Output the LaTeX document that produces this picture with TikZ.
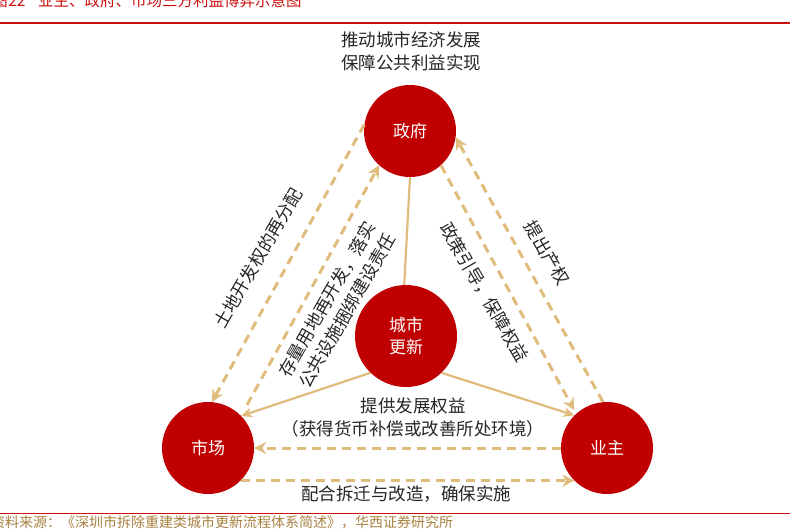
\documentclass[tikz,border=0pt]{standalone}
\usepackage{fontspec}
\setmainfont{Noto Sans CJK SC}
\usetikzlibrary{arrows.meta,calc}
\definecolor{cred}{HTML}{C00000}
\definecolor{gold}{HTML}{E0BC7C}
\definecolor{txt}{HTML}{262626}
\definecolor{tred}{HTML}{CC1010}
\definecolor{srcc}{HTML}{A88140}
\begin{document}
\begin{tikzpicture}[x=1pt,y=-1pt,
  circ/.style={circle, fill=cred, minimum size=92pt, inner sep=0pt, text=white,
    font=\fontsize{17}{22}\selectfont, align=center},
  gline/.style={draw=gold, line width=2.2pt},
  dline/.style={draw=gold, line width=3pt, dash pattern=on 9pt off 6pt},
  dtip/.style={-{Stealth[length=12pt,width=12pt]}},
  stip/.style={-{Stealth[length=11pt,width=10pt]}},
  lab/.style={text=txt, font=\fontsize{17.5}{23}\selectfont, inner sep=0pt, align=center}]
\useasboundingbox (0,0) rectangle (790,530);
\clip (0,0) rectangle (790,530);

% header and footer
\draw[tred, line width=2.4pt] (0,23) -- (790,23);
\draw[tred, line width=1.6pt] (0,513.5) -- (790,513.5);
\node[text=tred, font=\fontsize{15.5}{18}\selectfont, inner sep=0pt] (tfig) at (0,1) {图};
\node[text=tred, font=\fontsize{15.5}{18}\selectfont, inner sep=0pt] (tnum) at (17,1) {22};
\node[text=tred, font=\fontsize{15.5}{18}\selectfont, inner sep=0pt, anchor=west] (title) at (38,1) {业主、政府、市场三方利益博弈示意图};
\node[text=srcc, font=\fontsize{14}{16}\selectfont, inner sep=0pt, anchor=west] (src) at (-9,522) {资料来源：《深圳市拆除重建类城市更新流程体系简述》，华西证券研究所};

% circles
\node[circ] (gov) at (410,131) {政府};
\node[circ, minimum size=102pt] (city) at (406,336) {城市\\更新};
\node[circ] (mkt) at (208,448) {市场};
\node[circ] (own) at (607,448) {业主};

\coordinate (mktA) at ($(mkt)+(39,-43)$);
\coordinate (ownA) at ($(own)+(-33,-38)$);

% solid connectors
\draw[gline] (gov.270) -- (city.92);
\draw[gline, stip] (city.226) -- (mkt.44);
\draw[gline, stip] (city.314) -- (own.135);

% dashed connectors
\draw[dline, dtip] (gov.172) -- (mkt.85);
\draw[dline, dtip] (mktA) -- (gov.228);
\draw[dline, dtip] (own.95) -- (gov.352);
\draw[dline, dtip] (gov.312) -- (ownA);
\draw[dline, dtip] (own.180) -- (mkt.0);
\draw[dline, dtip] (mkt.-45) -- (own.225);

% labels
\node[lab] (top) at (411,51) {推动城市经济发展\\保障公共利益实现};
\node[lab, rotate=60] (l1) at (258,258) {土地开发权的再分配};
\node[lab, rotate=60] (l2) at (337,305) {存量用地再开发，落实\\公共设施捆绑建设责任};
\node[lab, rotate=-60] (r1) at (484,292) {政策引导，保障权益};
\node[lab, rotate=-60] (r2) at (547,253) {提出产权};
\node[lab] (mid) at (413,417.5) {提供发展权益\\（获得货币补偿或改善所处环境）};
\node[lab] (bot) at (406,494) {配合拆迁与改造，确保实施};
\end{tikzpicture}
\end{document}
